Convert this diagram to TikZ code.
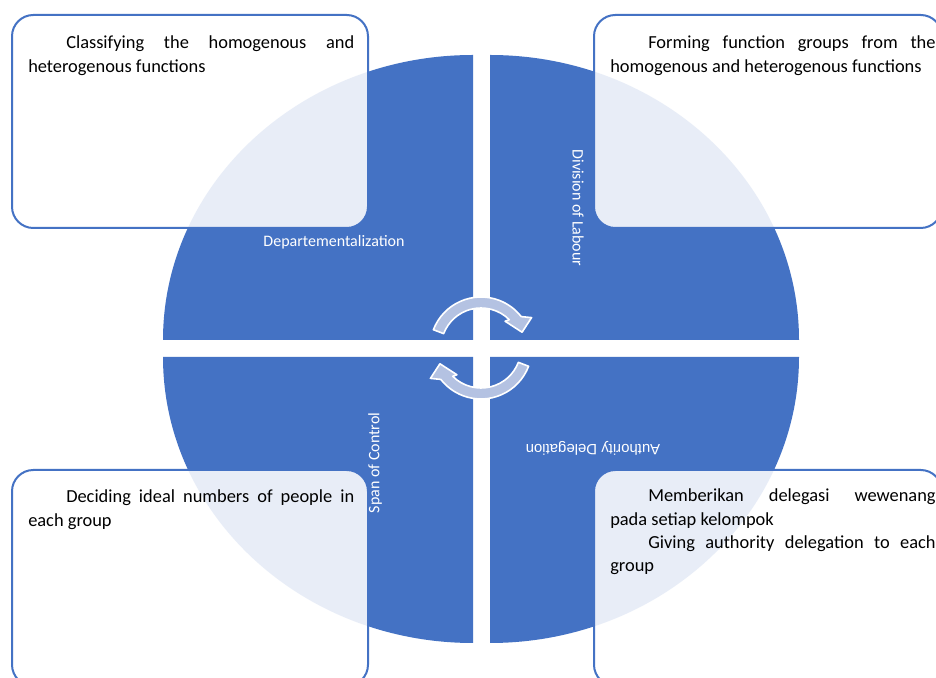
\documentclass[tikz,border=0pt]{standalone}
\usepackage{fontspec}
\setmainfont{Carlito}
\newfontfamily\arialf{Liberation Sans}
\usetikzlibrary{calc}
\definecolor{qblue}{HTML}{4472C4}
\definecolor{arrfill}{RGB}{180,194,226}
\begin{document}
\begin{tikzpicture}[x=0.75pt,y=0.75pt,
  quad/.style={fill=qblue},
  tbox/.style={draw=qblue, line width=1.5pt, fill=white, fill opacity=0.88, rounded corners=16pt},
  lbl/.style={text=white, inner sep=0pt, font=\fontsize{12}{14}\selectfont},
  body/.style={inner sep=0pt, anchor=base west, text=black, font=\fontsize{13.8}{17.4}\selectfont},
  cyc/.style={fill=arrfill, draw=white, line width=1.2pt, line join=round}]
\useasboundingbox (0,0) rectangle (936,678);
\clip (0,0) rectangle (936,678);
\fill[white] (0,0) rectangle (936,678);
% quadrants
\fill[quad] (473,338) -- (163,338) arc[start angle=180, end angle=90, x radius=310, y radius=285] -- cycle;
\fill[quad] (490,338) -- (490,623) arc[start angle=90, end angle=0, x radius=309, y radius=285] -- cycle;
\fill[quad] (473,321) -- (163,321) arc[start angle=180, end angle=270, x radius=310, y radius=286] -- cycle;
\fill[quad] (490,321) -- (799,321) arc[start angle=0, end angle=-90, x radius=309, y radius=286] -- cycle;
% cycle arrows
\coordinate (C) at (481,330);
\path[cyc] ($(C)+(159:51)$) arc[start angle=159, end angle=38, radius=51]
  -- ($(C)+(31:59)$) -- ($(C)+(21:44)$) -- ($(C)+(48:36)$) -- ($(C)+(45:40)$)
  arc[start angle=45, end angle=159, radius=40] -- cycle;
\path[cyc] ($(C)+(339:51)$) arc[start angle=339, end angle=218, radius=51]
  -- ($(C)+(211:59)$) -- ($(C)+(201:44)$) -- ($(C)+(228:36)$) -- ($(C)+(225:40)$)
  arc[start angle=225, end angle=339, radius=40] -- cycle;
% text boxes
\draw[tbox] (12,663) rectangle (368,450);
\draw[tbox] (594,663) rectangle (942,450);
\draw[tbox] (12,208) rectangle (368,-8);
\draw[tbox] (594,208) rectangle (942,-8);
% quadrant labels
\node[lbl] (dep) at (334,436) {Departementalization};
\node[lbl, rotate=-90] (div) at (578,470) {Division of Labour};
\node[lbl, rotate=90] (span) at (375,215) {Span of Control};
\node[lbl, rotate=180, font=\arialf\fontsize{11.2}{13}\selectfont] (auth) at (593,230) {Authority Delegation};
% box texts
\node[body] (t1) at (28,629) {\parbox[t]{244.5pt}{\setlength{\parindent}{28.5pt}Classifying the homogenous and\linebreak heterogenous functions}};
\node[body] (t2) at (610,629) {\parbox[t]{244pt}{\setlength{\parindent}{28.5pt}Forming function groups from the\linebreak homogenous and heterogenous functions}};
\node[body] (t3) at (28,175) {\parbox[t]{244.5pt}{\setlength{\parindent}{28.5pt}Deciding ideal numbers of people in\linebreak each group}};
\node[body] (t4) at (610,176) {\parbox[t]{244pt}{\setlength{\parindent}{28.5pt}Memberikan delegasi wewenang\linebreak pada setiap kelompok\par Giving authority delegation to each\linebreak group}};
\end{tikzpicture}
\end{document}
